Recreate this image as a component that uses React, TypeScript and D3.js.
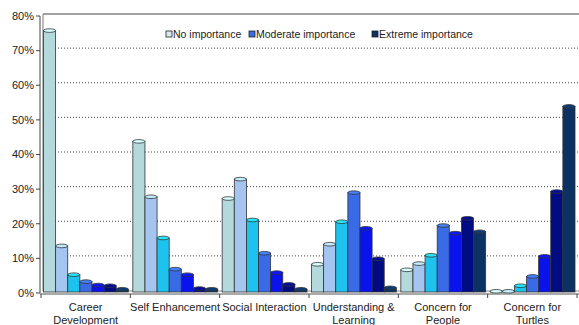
import React from "react";
import * as d3 from "d3";

const categories = [
  ["Career", "Development"],
  ["Self Enhancement"],
  ["Social Interaction"],
  ["Understanding &", "Learning"],
  ["Concern for", "People"],
  ["Concern for", "Turtles"],
];
const levels = ["1", "2", "3", "4", "5", "6", "7"];
const values = [
  [75.5, 13.3, 5.0, 3.0, 2.0, 1.8, 0.8],
  [43.5, 27.5, 15.6, 6.6, 5.0, 1.0, 0.8],
  [27.0, 32.6, 20.8, 11.2, 5.6, 2.2, 0.8],
  [8.0, 13.8, 20.3, 28.7, 18.4, 9.6, 1.2],
  [6.4, 8.2, 10.6, 19.2, 17.0, 21.3, 17.4],
  [0.2, 0.2, 1.8, 4.5, 10.3, 29.0, 53.6],
];
const colors = ["#b3d9dc", "#a3c5f0", "#1ec2ee", "#3a6be6", "#0a12ee", "#020c82", "#0b3262"];
const legendItems = [
  { label: "No importance", color: "#d8ecea" },
  { label: "Moderate importance", color: "#3a6be6" },
  { label: "Extreme importance", color: "#0b3262" },
];
const yTicks = [0, 10, 20, 30, 40, 50, 60, 70, 80];

export default function App() {
  const W = 579, H = 325;
  const x0 = d3.scaleBand<number>().domain(d3.range(categories.length)).range([41, 577]).padding(0);
  const x1 = d3.scaleBand<string>().domain(levels).range([2.5, x0.bandwidth() - 2]).padding(0);
  const y = d3.scaleLinear().domain([0, 80]).range([293, 16]);
  const font = "'Liberation Sans', Arial, sans-serif";
  const legendX = [166, 249, 372];
  return (
    <svg width={W} height={H} style={{ position: "absolute", left: 0, top: 0, background: "#fff" }}>
      {/* back wall / grid */}
      {yTicks.slice(1, -1).map((t) => (
        <line key={"g" + t} x1={43} x2={W} y1={y(t) - 2.5} y2={y(t) - 2.5} stroke="#444" strokeWidth={1} strokeDasharray="1,2" />
      ))}
      <line x1={43} x2={W} y1={14} y2={14} stroke="#444" strokeWidth={1.2} />
      <line x1={43} x2={43} y1={14} y2={291} stroke="#777" strokeWidth={1} />
      <line x1={43} x2={W} y1={291} y2={291} stroke="#888" strokeWidth={1} />
      {/* y axis */}
      <line x1={40} x2={40} y1={y(80)} y2={y(0)} stroke="#444" strokeWidth={1} />
      {yTicks.map((t) => (
        <g key={"t" + t}>
          <line x1={36} x2={40} y1={y(t)} y2={y(t)} stroke="#444" />
          <text x={34} y={y(t)} dy="0.35em" textAnchor="end" fontFamily={font} fontSize={11} fill="#222">
            {t + "%"}
          </text>
        </g>
      ))}
      {/* bars */}
      {values.map((row, gi) => (
        <g key={"grp" + gi} transform={`translate(${x0(gi)},0)`}>
          {row.map((v, bi) => {
            const bx = x1(levels[bi])!;
            const bw = x1.bandwidth();
            const top = y(v) - 1;
            const base = y(0) - 1;
            const c = colors[bi];
            return (
              <g key={bi}>
                <rect x={bx} y={top} width={bw} height={Math.max(0, base - top)} fill={c} stroke="#333" strokeWidth={0.8} />
                <ellipse cx={bx + bw / 2} cy={top} rx={bw / 2} ry={1.8} fill={d3.color(c)!.brighter(0.5).formatHex()} stroke="#333" strokeWidth={0.8} />
              </g>
            );
          })}
        </g>
      ))}
      {/* x axis */}
      <line x1={40} x2={W} y1={y(0) + 1} y2={y(0) + 1} stroke="#555" strokeWidth={1} />
      {d3.range(categories.length + 1).map((i) => {
        const xx = i < categories.length ? x0(i)! : 577;
        return <line key={"xt" + i} x1={xx} x2={xx} y1={y(0) + 1} y2={y(0) + 5} stroke="#444" />;
      })}
      {categories.map((lines, i) => (
        <text key={"xl" + i} x={x0(i)! + x0.bandwidth() / 2} y={311} textAnchor="middle" fontFamily={font} fontSize={11} fill="#222">
          {lines.map((l, li) => (
            <tspan key={li} x={x0(i)! + x0.bandwidth() / 2} dy={li === 0 ? 0 : 13}>
              {l}
            </tspan>
          ))}
        </text>
      ))}
      {/* legend */}
      {legendItems.map((it, i) => (
        <g key={"lg" + i}>
          <rect x={legendX[i]} y={31} width={6} height={6} fill={it.color} stroke="#222" strokeWidth={0.8} />
          <text x={legendX[i] + 7} y={34} dy="0.35em" fontFamily={font} fontSize={10.5} fill="#222">
            {it.label}
          </text>
        </g>
      ))}
    </svg>
  );
}
